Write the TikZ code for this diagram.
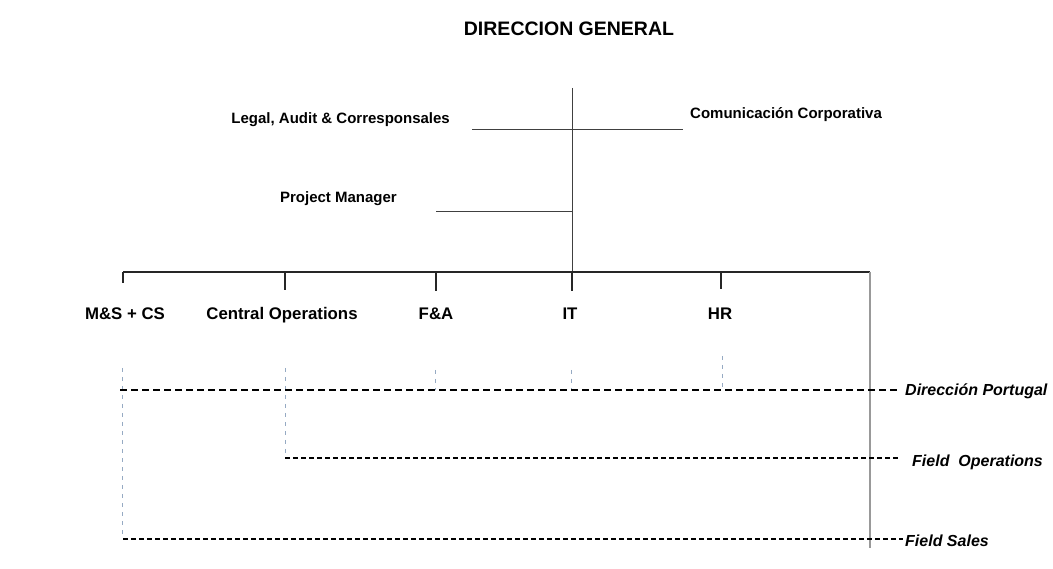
\documentclass[tikz,border=0pt]{standalone}
\usepackage{fontspec}
\setmainfont{Liberation Sans}
\begin{document}
\begin{tikzpicture}[x=1pt,y=-1pt,
  lbl/.style={font=\fontsize{16.8}{19}\selectfont\bfseries, inner sep=0pt, anchor=base},
  sml/.style={font=\fontsize{15}{17}\selectfont\bfseries, inner sep=0pt},
  ital/.style={font=\fontsize{16}{18}\selectfont\bfseries\itshape, inner sep=0pt, anchor=west},
  ttl/.style={font=\fontsize{19.5}{22}\selectfont\bfseries, inner sep=0pt},
  solidline/.style={line width=1.3pt, draw=black!85},
  thinline/.style={line width=1pt, draw=black!75},
  grayline/.style={line width=1.3pt, draw=black!40},
  faint/.style={line width=0.8pt, draw={rgb,255:red,150;green,170;blue,195}, dash pattern=on 4pt off 5pt},
  dashA/.style={line width=1.2pt, draw=black, dash pattern=on 7pt off 4pt},
  dashB/.style={line width=1.2pt, draw=black, dash pattern=on 5pt off 3pt},
]
\useasboundingbox (0,0) rectangle (1053,569);

\node[ttl] (dg) at (569,29) {DIRECCION GENERAL};

\node[sml, anchor=east] (legal) at (450,120) {Legal, Audit \& Corresponsales};
\node[sml, anchor=west] (com) at (690,115) {Comunicación Corporativa};
\node[sml, anchor=east] (pm) at (397,199) {Project Manager};

\coordinate (top) at (572,88);
\coordinate (barc) at (572,272);
\coordinate (lL) at (472,130);
\coordinate (lR) at (683,130);
\coordinate (pL) at (436,212);
\coordinate (pR) at (572,212);
\coordinate (barL) at (123,272);
\coordinate (barR) at (870,272);
\coordinate (grayB) at (870,548);

\draw[thinline] (top) -- (barc);
\draw[thinline] (lL) -- (lR);
\draw[thinline] (pL) -- (pR);
\draw[solidline] (barL) -- (barR);
\draw[grayline] (barR) -- (grayB);

\node[lbl] (ms) at (125,320) {M\&S + CS};
\node[lbl] (co) at (282,320) {Central Operations};
\node[lbl] (fa) at (436,320) {F\&A};
\node[lbl] (it) at (570,320) {IT};
\node[lbl] (hr) at (720,320) {HR};

\coordinate (tms) at (123,283);
\coordinate (tco) at (285,290);
\coordinate (tfa) at (436,291);
\coordinate (tit) at (572,291);
\coordinate (thr) at (721,289);
\draw[solidline] (barL) -- (tms);
\draw[solidline] (285,272) -- (tco);
\draw[solidline] (436,272) -- (tfa);
\draw[solidline] (barc) -- (tit);
\draw[solidline] (721,272) -- (thr);

% faint vertical connectors
\coordinate (vms) at (122,368);
\coordinate (vmsb) at (122,538);
\coordinate (vco) at (285,368);
\coordinate (vcob) at (285,458);
\coordinate (vfa) at (435,370);
\coordinate (vit) at (571,370);
\coordinate (vhr) at (722,356);
\draw[faint] (vms) -- (vmsb);
\draw[faint] (vco) -- (vcob);
\draw[faint] (vfa) -- (435,390);
\draw[faint] (vit) -- (571,390);
\draw[faint] (vhr) -- (722,390);

\node[ital] (dp) at (905,391) {Dirección Portugal};
\node[ital] (fo) at (912,462) {Field\ \ Operations};
\node[ital] (fs) at (905,541) {Field Sales};

\coordinate (dpL) at (120,390);
\coordinate (foL) at (285,458);
\coordinate (fsL) at (123,539);
\draw[dashA] (dpL) -- ([xshift=-6pt]dp.west |- dpL);
\draw[dashB] (foL) -- ([xshift=-14pt]fo.west |- foL);
\draw[dashB] (fsL) -- ([xshift=-2pt]fs.west |- fsL);
\end{tikzpicture}
\end{document}
